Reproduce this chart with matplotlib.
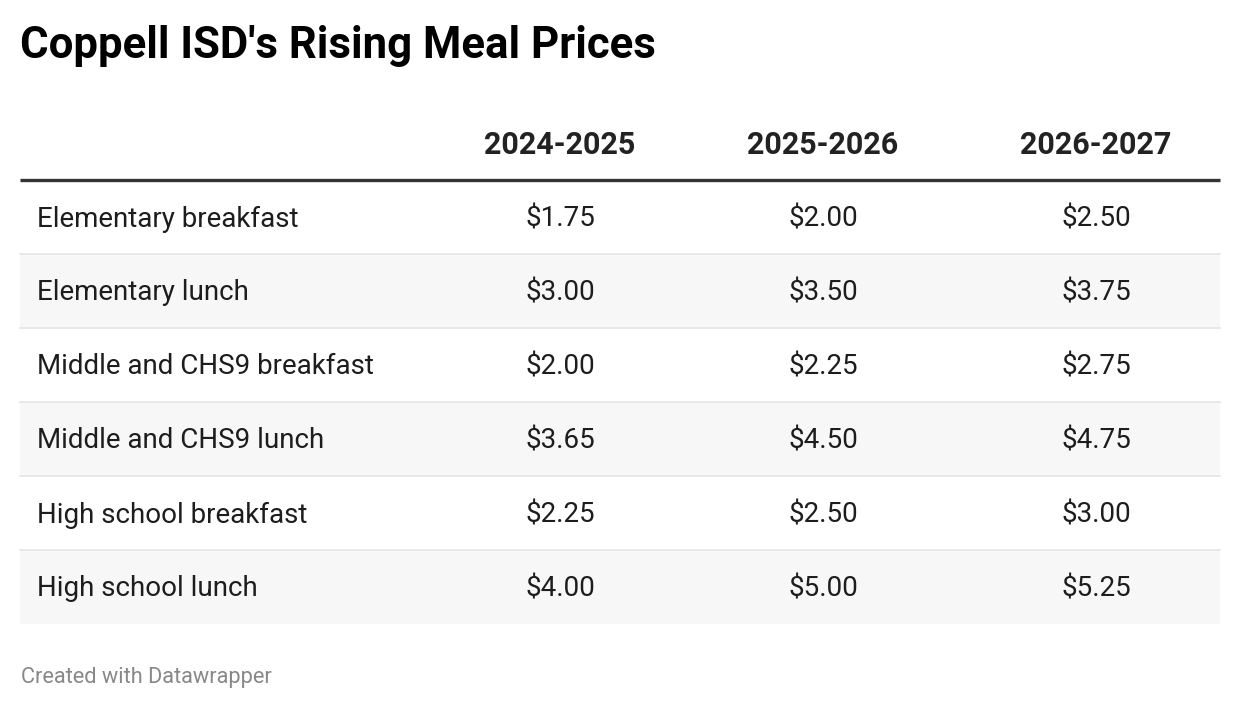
import matplotlib
matplotlib.use("Agg")
import matplotlib.pyplot as plt

# table contents
title = "Coppell ISD's Rising Meal Prices"
years = ["2024-2025", "2025-2026", "2026-2027"]
meals = [
    "Elementary breakfast",
    "Elementary lunch",
    "Middle and CHS9 breakfast",
    "Middle and CHS9 lunch",
    "High school breakfast",
    "High school lunch",
]
price_2024 = [1.75, 3.00, 2.00, 3.65, 2.25, 4.00]
price_2025 = [2.00, 3.50, 2.25, 4.50, 2.50, 5.00]
price_2026 = [2.50, 3.75, 2.75, 4.75, 3.00, 5.25]
footer = "Created with Datawrapper"

plt.rcParams['font.family'] = ['Roboto', 'DejaVu Sans']

W, H = 1240, 710
fig = plt.figure(figsize=(W / 100, H / 100), dpi=100)
ax = fig.add_axes([0, 0, 1, 1])
ax.set_xlim(0, W)
ax.set_ylim(H, 0)
ax.axis('off')

left, right = 20, 1220
col_x = [560, 823, 1096]
head_y = 145
top = 180
row_h = 74

ax.text(left, 46, title, fontsize=31.5, fontweight='bold', color='#000000',
        ha='left', va='center')

for x, yr in zip(col_x, years):
    ax.text(x, head_y, yr, fontsize=22, fontweight='bold', color='#222222',
            ha='center', va='center')

columns = [price_2024, price_2025, price_2026]
for i, meal in enumerate(meals):
    y0 = top + i * row_h
    if i % 2 == 1:
        ax.axhspan(y0, y0 + row_h, xmin=left / W, xmax=right / W,
                   color='#f7f7f7', lw=0, zorder=0)
    if i > 0:
        ax.plot([left, right], [y0, y0], color='#e5e5e5', lw=1.2, zorder=1)
    yc = y0 + row_h / 2 + 2
    ax.text(37, yc, meal, fontsize=20, color='#1d1d1d', ha='left', va='center')
    for x, col in zip(col_x, columns):
        ax.text(x, yc, f"${col[i]:.2f}", fontsize=20, color='#1d1d1d',
                ha='center', va='center')

ax.plot([left, right], [top, top], color='#333333', lw=2.4, zorder=2,
        solid_capstyle='butt')

ax.text(21, 678, footer, fontsize=15.7, color='#888888', ha='left', va='center')

fig.savefig("out.png", dpi=100)
